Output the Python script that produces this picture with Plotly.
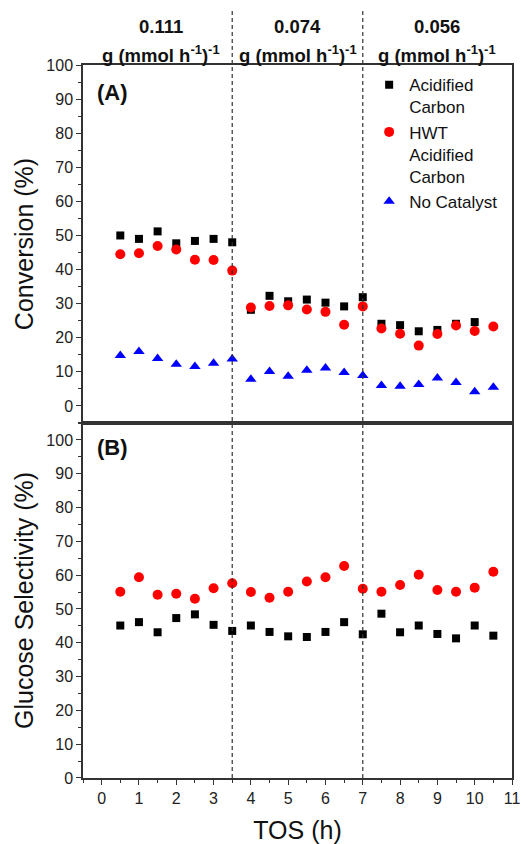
import plotly.graph_objects as go
from plotly.subplots import make_subplots

tos = [0.5, 1, 1.5, 2, 2.5, 3, 3.5, 4, 4.5, 5, 5.5, 6, 6.5, 7, 7.5, 8, 8.5, 9, 9.5, 10, 10.5]

conv_acidified = [50.0, 49.0, 51.2, 47.7, 48.4, 49.0, 48.0, 28.2, 32.3, 30.7, 31.2, 30.3, 29.2, 31.9,
                  24.1, 23.7, 21.9, 22.3, 24.1, 24.6, None]
conv_hwt = [44.5, 44.8, 46.9, 45.9, 42.9, 42.8, 39.7, 28.9, 29.3, 29.5, 28.3, 27.6, 23.8, 29.2,
            22.7, 21.2, 17.7, 21.1, 23.6, 22.0, 23.3]
conv_none = [14.8, 16.0, 13.9, 12.2, 11.6, 12.5, 13.8, 7.8, 10.1, 8.7, 10.5, 11.1, 9.8, 8.9,
             6.0, 5.8, 6.3, 8.2, 6.9, 4.2, 5.5]

sel_acidified = [45.1, 46.1, 43.1, 47.3, 48.4, 45.3, 43.5, 45.1, 43.2, 41.9, 41.7, 43.2, 46.1, 42.5,
                 48.6, 43.1, 45.1, 42.6, 41.3, 45.1, 42.1]
sel_hwt = [55.1, 59.4, 54.2, 54.5, 53.0, 56.1, 57.6, 55.0, 53.3, 55.1, 58.1, 59.4, 62.7, 56.0,
           55.1, 57.1, 60.1, 55.6, 55.1, 56.3, 61.0]

series_names = ["Acidified<br>Carbon", "HWT<br>Acidified<br>Carbon", "No Catalyst"]
boundaries = [3.5, 7]
header_x = [1.58, 5.25, 9.0]
header_vals = ["0.111", "0.074", "0.056"]
header_unit = "g (mmol h<sup>-1</sup>)<sup>-1</sup>"

FONT = "Arial"
AX = "#333333"

fig = make_subplots(rows=2, cols=1, shared_xaxes=False, vertical_spacing=0)

sq = dict(symbol="square", size=8, color="black")
ci = dict(symbol="circle", size=10, color="#ff0000")
tr = dict(symbol="triangle-up", size=10, color="#0000ff")

fig.add_trace(go.Scatter(x=tos, y=conv_acidified, mode="markers", marker=sq, name=series_names[0]), row=1, col=1)
fig.add_trace(go.Scatter(x=tos, y=conv_hwt, mode="markers", marker=ci, name=series_names[1]), row=1, col=1)
fig.add_trace(go.Scatter(x=tos, y=conv_none, mode="markers", marker=tr, name=series_names[2]), row=1, col=1)
fig.add_trace(go.Scatter(x=tos, y=sel_acidified, mode="markers", marker=sq, showlegend=False), row=2, col=1)
fig.add_trace(go.Scatter(x=tos, y=sel_hwt, mode="markers", marker=ci, showlegend=False), row=2, col=1)

axis_common = dict(showline=True, linecolor=AX, linewidth=1.5, mirror=True, showgrid=False, zeroline=False,
                   automargin=False, tickfont=dict(family=FONT, size=16, color="#222"))

fig.update_xaxes(range=[-0.5, 11], dtick=1, tick0=0, **axis_common)
fig.update_xaxes(showticklabels=False, ticks="", row=1, col=1)
fig.update_xaxes(ticks="outside", ticklen=5, tickwidth=1.2, tickcolor=AX,
                 minor=dict(ticks="outside", ticklen=3, dtick=0.5, tickcolor=AX, tickwidth=1),
                 title=dict(text="TOS (h)", font=dict(family=FONT, size=25, color="#111"), standoff=17),
                 row=2, col=1)

fig.update_yaxes(ticks="outside", ticklen=5, tickwidth=1.2, tickcolor=AX,
                 minor=dict(ticks="outside", ticklen=3, dtick=5, tickcolor=AX, tickwidth=1),
                 dtick=10, tick0=0, **axis_common)
fig.update_yaxes(range=[-5, 100], title=dict(text="Conversion (%)", font=dict(family=FONT, size=25, color="#111"), standoff=6),
                 row=1, col=1)
fig.update_yaxes(range=[0, 105], title=dict(text="Glucose Selectivity (%)", font=dict(family=FONT, size=25, color="#111"), standoff=6),
                 row=2, col=1)

fig.update_layout(
    xaxis=dict(domain=[0, 1]),
    yaxis=dict(domain=[0.4979, 1]),
    yaxis2=dict(domain=[0, 0.4979]),
)

for b in boundaries:
    fig.add_shape(type="line", xref="x", yref="paper", x0=b, x1=b, y0=0, y1=1.077,
                  line=dict(color=AX, width=1.2, dash="4px,3px"))

for hx, hv in zip(header_x, header_vals):
    fig.add_annotation(x=hx, xref="x", y=1.0533, yref="paper", text=f"<b>{hv}</b>",
                       showarrow=False, font=dict(family=FONT, size=18.5, color="#111"), yanchor="middle")
    fig.add_annotation(x=hx, xref="x", y=1.0154, yref="paper", text=f"<b>{header_unit}</b>",
                       showarrow=False, font=dict(family=FONT, size=18.5, color="#111"), yanchor="middle")

fig.add_annotation(x=0.027, xref="paper", y=0.962, yref="paper", text="<b>(A)</b>", showarrow=False,
                   xanchor="left", yanchor="middle", font=dict(family=FONT, size=22, color="#111"))
fig.add_annotation(x=0.027, xref="paper", y=0.4635, yref="paper", text="<b>(B)</b>", showarrow=False,
                   xanchor="left", yanchor="middle", font=dict(family=FONT, size=22, color="#111"))

# the page body has an 8px default margin, so the figure is drawn 8px smaller and offset
fig.update_layout(
    width=521, height=836,
    margin=dict(l=75, r=17, t=57, b=66, autoexpand=False),
    paper_bgcolor="white", plot_bgcolor="white",
    font=dict(family=FONT, color="#111"),
    legend=dict(x=0.667, y=0.997, xanchor="left", yanchor="top", valign="top",
                font=dict(family=FONT, size=17, color="#111"), bgcolor="rgba(0,0,0,0)",
                itemwidth=30, tracegroupgap=0),
)

fig.write_html("out.html")
